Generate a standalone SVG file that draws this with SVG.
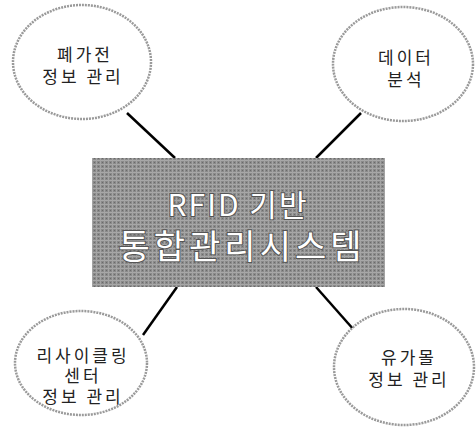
<svg xmlns="http://www.w3.org/2000/svg" width="476" height="430" viewBox="0 0 476 430">
<defs>
<pattern id="tex" width="4" height="4" patternUnits="userSpaceOnUse">
<rect width="4" height="4" fill="#8a8a8a"/>
<rect x="0" y="0" width="4" height="1" fill="#a8a8a8"/>
<rect x="0" y="0" width="1" height="4" fill="#a4a4a4"/>
<rect x="2" y="2" width="1" height="1" fill="#6a6a6a"/>
</pattern>
</defs>
<style>
.el{fill:#fff;stroke:#9a9a9a;stroke-width:2.5;stroke-dasharray:2 1}
.lbl{font-family:"Noto Sans CJK KR","Noto Sans",sans-serif;font-size:17px;fill:#222;text-anchor:middle;letter-spacing:3px}
.ctr{font-family:"Noto Sans CJK KR","Noto Sans",sans-serif;fill:#fff;text-anchor:middle;stroke:#555;stroke-width:2;paint-order:stroke}
.con{stroke:#000;stroke-width:2.5;fill:none}
</style>
<rect width="476" height="430" fill="#fff"/>
<g id="connectors">
<line class="con" x1="127" y1="113" x2="175" y2="158"/>
<line class="con" x1="361" y1="113" x2="316" y2="158"/>
<line class="con" x1="177" y1="287" x2="143" y2="335"/>
<line class="con" x1="316" y1="287" x2="354" y2="330"/>
</g>
<g id="center">
<rect x="92" y="158" width="293" height="129" fill="url(#tex)"/>
<text class="ctr" x="238" y="216" font-size="30" letter-spacing="2">RFID 기반</text>
<text class="ctr" x="242" y="259" font-size="34" letter-spacing="4">통합관리시스템</text>
</g>
<g id="n1">
<ellipse class="el" cx="82" cy="62" rx="69" ry="57"/>
<text class="lbl" x="85" y="61">폐가전</text>
<text class="lbl" x="83" y="83">정보 관리</text>
</g>
<g id="n2">
<ellipse class="el" cx="403" cy="64" rx="70" ry="57"/>
<text class="lbl" x="406" y="64">데이터</text>
<text class="lbl" x="406" y="86">분석</text>
</g>
<g id="n3">
<ellipse class="el" cx="81" cy="363" rx="66" ry="52"/>
<text class="lbl" x="83" y="362">리사이클링</text>
<text class="lbl" x="83" y="382">센터</text>
<text class="lbl" x="83" y="403">정보 관리</text>
</g>
<g id="n4">
<ellipse class="el" cx="404" cy="367" rx="70" ry="58"/>
<text class="lbl" x="409" y="364">유가몰</text>
<text class="lbl" x="409" y="386">정보 관리</text>
</g>
</svg>
